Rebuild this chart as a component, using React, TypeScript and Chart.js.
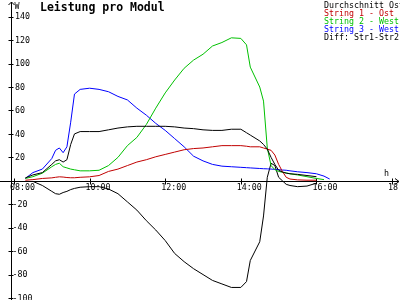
import React, { useEffect, useRef } from "react";
import { Chart, registerables } from "chart.js";

Chart.register(...registerables);

const TITLE = "Leistung pro Modul";
const LEGEND = ["Durchschnitt Ost", "String 1 - Ost", "String 2 - West", "String 3 - West", "Diff: Str1-Str2"];
const COLORS = ["#000000", "#c00000", "#00c000", "#0000ff", "#000000"];
const X_TICKS = [8, 10, 12, 14, 16, 18];
const X_TICK_LABELS = ["08:00", "10:00", "12:00", "14:00", "16:00", "18:00"];
const Y_TICKS = [-100, -80, -60, -40, -20, 20, 40, 60, 80, 100, 120, 140];

const times = [8.3, 8.5, 8.75, 9.0, 9.1, 9.2, 9.3, 9.4, 9.5, 9.6, 9.75, 10.0, 10.25, 10.5, 10.75, 11.0, 11.25, 11.5, 11.75, 12.0, 12.25, 12.5, 12.75, 13.0, 13.25, 13.5, 13.75, 14.0, 14.15, 14.25, 14.5, 14.6, 14.7, 14.8, 14.9, 15.0, 15.1, 15.2, 15.3, 15.5, 15.75, 16.0, 16.2, 16.35];

const avgOst = [2.5, 5, 7, 14, 17, 18, 16, 18, 31, 40, 42, 42, 42, 43.5, 45, 46, 46.5, 46.5, 46.5, 46.5, 46, 45, 44.5, 43.5, 43, 43, 44, 44, 41, 39, 34, 31, 27, 20, 14, 9, 7.5, 6.5, 6, 5.5, 4.5, 3.5, null, null];
const string1 = [0.5, 1, 2, 2.5, 3, 3.4, 3.2, 2.8, 2.6, 2.6, 3, 3.4, 4.5, 8, 10, 13, 16, 18, 20.5, 22.5, 24.5, 26.5, 27.5, 28, 29, 30, 30, 30, 29.5, 29, 29, 28, 27, 26, 22, 14, 8, 3, 1.5, 0.8, 0.5, 0.5, null, null];
const string2 = [2, 3.5, 6.5, 12, 14, 15, 12, 11, 10, 9.4, 8.5, 8.5, 9, 13, 20, 30, 37, 48, 62, 75, 86, 96, 103, 108, 115, 118, 122, 121.5, 116, 97, 80, 68, 28, 13, 9.5, 8, 7.3, 6.8, 6, 5, 3.5, 2, 1, null];
const string3 = [2, 7, 10, 19, 26, 28, 24, 29, 50, 74, 78, 79, 78, 76, 72, 69, 62, 56, 49, 43, 36, 29, 21, 17, 14, 12.5, 12, 11.5, 11.2, 11, 10.5, 10.3, 10.2, 10, 9.8, 9.5, 9.2, 9, 8.5, 7.7, 7, 6, 4, 1.5];
const diff = [null, -0.5, -4, -9, -11, -11.5, -10, -9, -7.5, -6.5, -5.5, -5, -5, -7, -11, -18, -25, -34, -42, -51, -62, -69, -75, -80, -85, -88, -91, -91, -86, -68, -52, -30, 3, 15, 13, 3, 0, -3, -4, -5, -4.5, -2, null, null];

const SERIES = [avgOst, string1, string2, string3, diff];

const SMALL_FONT = "8.3px 'DejaVu Sans Mono', monospace";

const axesPlugin = {
  id: "customAxes",
  beforeDatasetsDraw(chart: any) {
    const ctx = chart.ctx;
    const xs = chart.scales.x;
    const ys = chart.scales.y;
    const y0 = Math.round(ys.getPixelForValue(0)) + 0.5;
    const yAxisX = Math.round(xs.getPixelForValue(7.92)) + 0.5;
    ctx.save();
    ctx.strokeStyle = "#000";
    ctx.lineWidth = 1;
    ctx.beginPath();
    ctx.moveTo(0, y0);
    ctx.lineTo(399, y0);
    ctx.moveTo(395, y0 - 3);
    ctx.lineTo(399, y0);
    ctx.lineTo(395, y0 + 3);
    ctx.moveTo(yAxisX, 300);
    ctx.lineTo(yAxisX, 2);
    ctx.moveTo(yAxisX - 3, 5);
    ctx.lineTo(yAxisX, 2);
    ctx.lineTo(yAxisX + 3, 5);
    Y_TICKS.forEach((v) => {
      const py = Math.round(ys.getPixelForValue(v)) + 0.5;
      ctx.moveTo(yAxisX - 3, py);
      ctx.lineTo(yAxisX + 2, py);
    });
    X_TICKS.forEach((t) => {
      const px = Math.round(xs.getPixelForValue(t)) + 0.5;
      ctx.moveTo(px, y0 - 3);
      ctx.lineTo(px, y0 + 3);
    });
    ctx.stroke();

    ctx.fillStyle = "#000";
    ctx.font = SMALL_FONT;
    ctx.textBaseline = "middle";
    ctx.textAlign = "left";
    Y_TICKS.forEach((v) => {
      const py = ys.getPixelForValue(v);
      ctx.fillText(String(v), v < 0 ? yAxisX + 1 : yAxisX + 3.5, py + 0.5);
    });
    X_TICKS.forEach((t, i) => {
      const px = xs.getPixelForValue(t);
      ctx.fillText(X_TICK_LABELS[i], px - 4, y0 + 6.5);
    });
    ctx.textBaseline = "alphabetic";
    ctx.fillText("W", yAxisX + 3, 8.5);
    ctx.fillText("h", 384, y0 - 6);
    ctx.restore();
  },
  afterDraw(chart: any) {
    const ctx = chart.ctx;
    ctx.save();
    ctx.textAlign = "left";
    ctx.textBaseline = "alphabetic";
    ctx.fillStyle = "#000";
    ctx.font = "bold 11.5px 'DejaVu Sans Mono', monospace";
    ctx.fillText(TITLE, 40, 11);
    ctx.font = SMALL_FONT;
    LEGEND.forEach((label, i) => {
      ctx.fillStyle = COLORS[i];
      ctx.fillText(label, 324, 7.5 + i * 8);
    });
    ctx.restore();
  },
};

export default function App() {
  const ref = useRef<HTMLCanvasElement | null>(null);
  useEffect(() => {
    if (!ref.current) return;
    const chart = new Chart(ref.current, {
      type: "line",
      data: {
        datasets: SERIES.map((vals, i) => ({
          label: LEGEND[i],
          data: times.map((t, j) => ({ x: t, y: vals[j] as any })),
          borderColor: COLORS[i],
          backgroundColor: COLORS[i],
          borderWidth: 1,
          pointRadius: 0,
          tension: 0,
          fill: false,
          spanGaps: false,
        })),
      },
      options: {
        animation: false,
        responsive: false,
        devicePixelRatio: 1,
        layout: { padding: { top: 5, bottom: 2, left: 0, right: 0 } },
        scales: {
          x: { type: "linear", min: 7.63, max: 18.21, display: false },
          y: { type: "linear", min: -100, max: 150, display: false },
        },
        plugins: {
          legend: { display: false },
          title: { display: false },
          tooltip: { enabled: false },
        },
      },
      plugins: [axesPlugin],
    });
    return () => chart.destroy();
  }, []);
  return (
    <div style={{ position: "fixed", left: 0, top: 0, width: 400, height: 300, background: "#fff" }}>
      <canvas ref={ref} width={400} height={300} style={{ display: "block" }} />
    </div>
  );
}
